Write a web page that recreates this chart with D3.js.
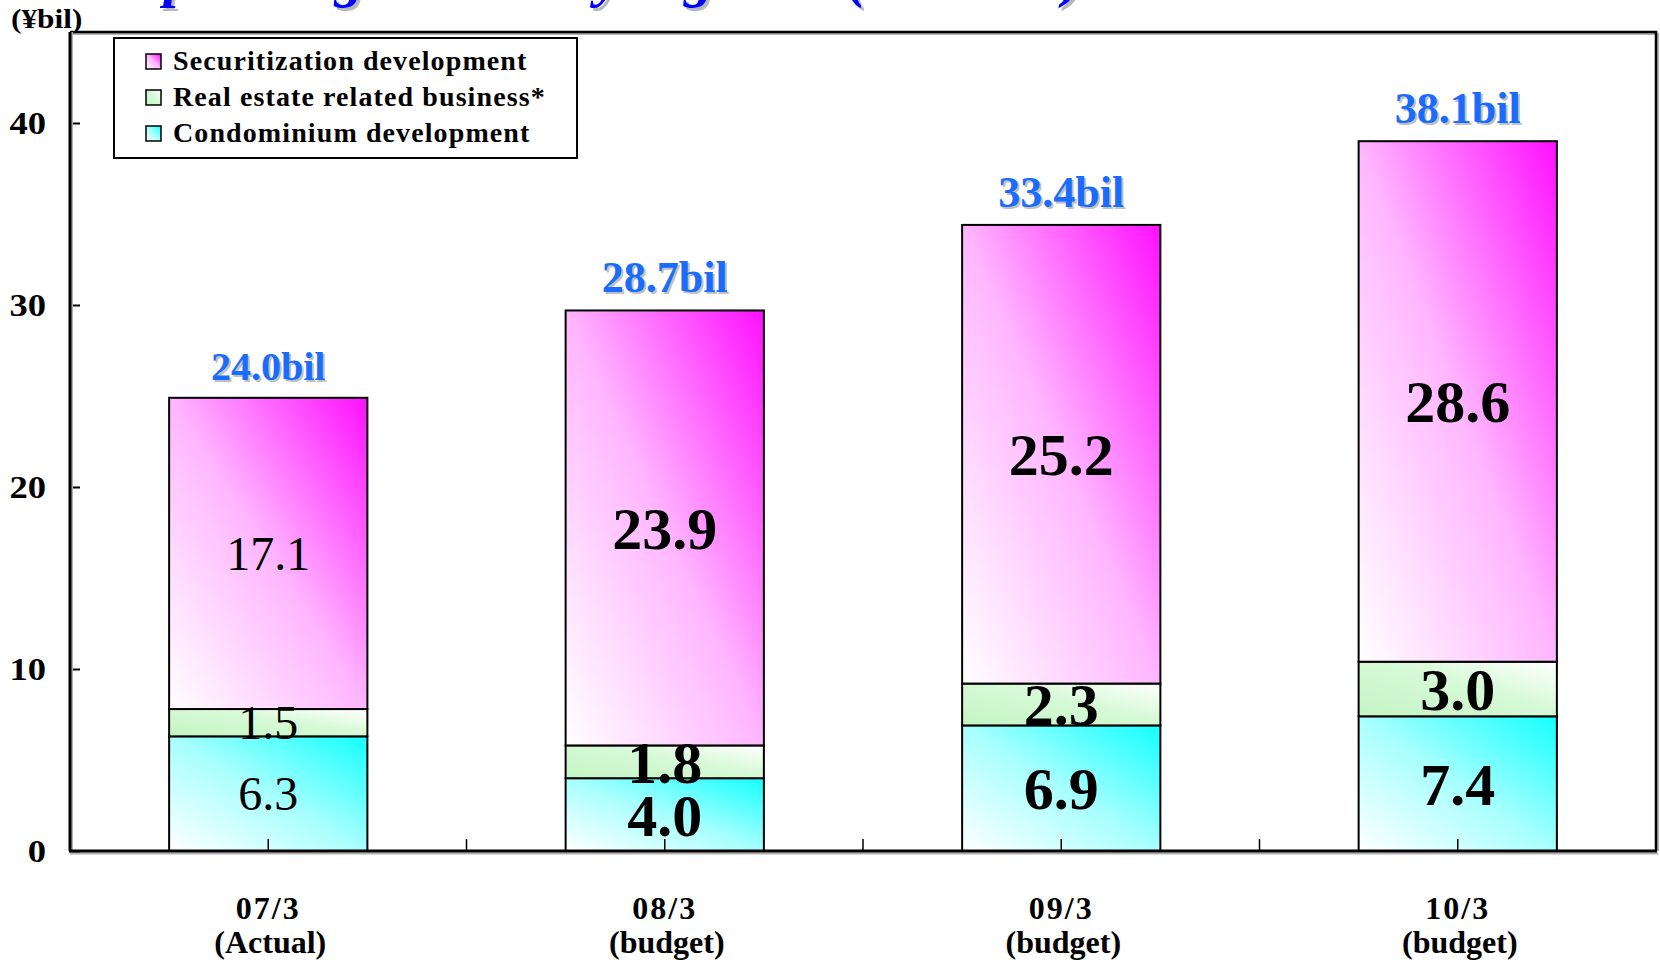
<!DOCTYPE html>
<html>
<head>
<meta charset="utf-8">
<script src="https://cdn.jsdelivr.net/npm/d3@7/dist/d3.min.js"></script>
<style>
  html, body { margin: 0; padding: 0; background: #ffffff; }
  svg { display: block; }
  text { font-family: "Liberation Serif", "Times New Roman", serif; }
</style>
</head>
<body>
<svg id="chart" width="1660" height="960"></svg>
<script>
// ---- data -------------------------------------------------------------
const categories = ["07/3", "08/3", "09/3", "10/3"];
const periodNotes = ["(Actual)", "(budget)", "(budget)", "(budget)"];
const seriesKeys = ["condominium", "realEstate", "securitization"];
const seriesNames = ["Securitization development", "Real estate related business*", "Condominium development"];
const condominium = [6.3, 4.0, 6.9, 7.4];
const realEstate = [1.5, 1.8, 2.3, 3.0];
const securitization = [17.1, 23.9, 25.2, 28.6];
const totalLabels = ["24.0bil", "28.7bil", "33.4bil", "38.1bil"];
const yTicks = [0, 10, 20, 30, 40];
const unitLabel = "(\u00a5bil)";
const titleText = "Operating income by segment (estimate)";

// ---- layout -----------------------------------------------------------
const svg = d3.select("#chart");
const plot = { left: 70, right: 1656, top: 32, bottom: 851 };

const rows = categories.map((c, i) => ({
  category: c,
  condominium: condominium[i],
  realEstate: realEstate[i],
  securitization: securitization[i]
}));

const x = d3.scaleBand()
  .domain(categories)
  .range([plot.left, plot.right])
  .paddingInner(0.5)
  .paddingOuter(0.25);

const y = d3.scaleLinear().domain([0, 45]).range([plot.bottom, plot.top]);

const stacked = d3.stack().keys(seriesKeys)(rows);

// ---- gradients --------------------------------------------------------
const defs = svg.append("defs");
const gradientStops = {
  securitization: [["0%", "#ffffff"], ["50%", "#ffb6ff"], ["100%", "#ff10ff"]],
  realEstate: [["0%", "#c4f5c4"], ["55%", "#d6f9d6"], ["100%", "#ffffff"]],
  condominium: [["0%", "#ffffff"], ["50%", "#a8ffff"], ["100%", "#14ffff"]]
};
Object.entries(gradientStops).forEach(([key, stops]) => {
  const g = defs.append("linearGradient")
    .attr("id", "grad-" + key)
    .attr("x1", 0).attr("y1", 1).attr("x2", 1).attr("y2", 0);
  stops.forEach(([o, c]) => g.append("stop").attr("offset", o).attr("stop-color", c));
});

// ---- title (runs off the top edge) -----------------------------------
svg.append("text")
  .attr("x", 125).attr("y", -1)
  .attr("fill", "#b8b8b8")
  .attr("font-size", 58).attr("font-weight", "bold").attr("font-style", "italic")
  .text(titleText);
svg.append("text")
  .attr("x", 122).attr("y", -4)
  .attr("fill", "#0000ff")
  .attr("font-size", 58).attr("font-weight", "bold").attr("font-style", "italic")
  .text(titleText);

// ---- unit label (slightly wide face) ------------------------------------
svg.append("text")
  .attr("transform", "translate(11,28) scale(1.12,1)")
  .attr("font-size", 28).attr("font-weight", "bold")
  .text(unitLabel);

// ---- plot frame (top and right edges, with soft shadow) ---------------
const frame = svg.append("g");
frame.append("path")
  .attr("d", `M${plot.left},${plot.top + 2}H${plot.right + 2}V${plot.bottom}`)
  .attr("fill", "none").attr("stroke", "#b0b0b0").attr("stroke-width", 2);
frame.append("path")
  .attr("d", `M${plot.left},${plot.top}H${plot.right}V${plot.bottom}`)
  .attr("fill", "none").attr("stroke", "#000").attr("stroke-width", 2.5);

// ---- bars ---------------------------------------------------------------
const barLayer = svg.append("g");
stacked.forEach(layer => {
  barLayer.append("g")
    .selectAll("rect")
    .data(layer)
    .join("rect")
    .attr("x", d => x(d.data.category))
    .attr("width", x.bandwidth())
    .attr("y", d => y(d[1]))
    .attr("height", d => y(d[0]) - y(d[1]))
    .attr("fill", `url(#grad-${layer.key})`)
    .attr("stroke", "#000")
    .attr("stroke-width", 2);
});

// ---- axes -----------------------------------------------------------------
const yAxis = d3.axisRight(y).tickValues(yTicks).tickSize(10).tickFormat("");
const yAxisG = svg.append("g").attr("transform", `translate(${plot.left},0)`).call(yAxis);
yAxisG.select(".domain").remove();
yAxisG.selectAll(".tick line").attr("stroke", "#000").attr("stroke-width", 2);

svg.append("g").selectAll("text")
  .data(yTicks)
  .join("text")
  .attr("transform", d => `translate(46,${y(d)}) scale(1.18,1)`)
  .attr("dy", "0.35em")
  .attr("text-anchor", "end")
  .attr("font-size", 31).attr("font-weight", "bold")
  .text(d => d);

// category ticks: at band centres and at the boundaries between bands
const step = x.step();
const boundaries = categories.slice(1).map(c => x(c) - (step - x.bandwidth()) / 2);
const centres = categories.map(c => x(c) + x.bandwidth() / 2);
svg.append("g").selectAll("line")
  .data(boundaries.concat(centres))
  .join("line")
  .attr("x1", d => d).attr("x2", d => d)
  .attr("y1", plot.bottom).attr("y2", plot.bottom - 12)
  .attr("stroke", "#000").attr("stroke-width", 1.5);

// axis lines with grey shadow
svg.append("line")
  .attr("x1", plot.left + 2).attr("x2", plot.left + 2)
  .attr("y1", plot.top).attr("y2", plot.bottom + 2)
  .attr("stroke", "#b0b0b0").attr("stroke-width", 2);
svg.append("line")
  .attr("x1", plot.left).attr("x2", plot.right + 2)
  .attr("y1", plot.bottom + 2.5).attr("y2", plot.bottom + 2.5)
  .attr("stroke", "#b0b0b0").attr("stroke-width", 2);
svg.append("line")
  .attr("x1", plot.left).attr("x2", plot.left)
  .attr("y1", plot.top).attr("y2", plot.bottom)
  .attr("stroke", "#000").attr("stroke-width", 3);
svg.append("line")
  .attr("x1", plot.left - 1).attr("x2", plot.right + 1)
  .attr("y1", plot.bottom).attr("y2", plot.bottom)
  .attr("stroke", "#000").attr("stroke-width", 3);

// category labels
const catG = svg.append("g").attr("font-weight", "bold").attr("text-anchor", "middle");
catG.selectAll("text.cat")
  .data(categories)
  .join("text")
  .attr("class", "cat")
  .attr("x", d => x(d) + x.bandwidth() / 2)
  .attr("y", 919)
  .attr("font-size", 32)
  .attr("letter-spacing", 2)
  .text(d => d);
catG.selectAll("text.note")
  .data(periodNotes)
  .join("text")
  .attr("class", "note")
  .attr("x", (d, i) => x(categories[i]) + x.bandwidth() / 2 + 2)
  .attr("y", 953)
  .attr("font-size", 32)
  .text(d => d);

// ---- segment value labels --------------------------------------------------
const fmt = d3.format(".1f");
const labelG = svg.append("g").attr("text-anchor", "middle");
stacked.forEach(layer => {
  labelG.append("g")
    .selectAll("text")
    .data(layer)
    .join("text")
    .attr("x", d => x(d.data.category) + x.bandwidth() / 2)
    .attr("y", d => y((d[0] + d[1]) / 2))
    .attr("dy", "0.35em")
    .attr("font-size", (d, i) => i === 0 ? 48 : 60)
    .attr("font-weight", (d, i) => i === 0 ? "normal" : "bold")
    .attr("fill", "#000")
    .text(d => fmt(d[1] - d[0]));
});

// ---- total labels above each bar ------------------------------------------
const topLayer = stacked[stacked.length - 1];
const totalG = svg.append("g").attr("text-anchor", "middle").attr("font-weight", "bold");
totalG.selectAll("text.shadow")
  .data(topLayer)
  .join("text")
  .attr("class", "shadow")
  .attr("x", d => x(d.data.category) + x.bandwidth() / 2 + 2)
  .attr("y", d => y(d[1]) - 18 + 2)
  .attr("font-size", (d, i) => i === 0 ? 40 : 44)
  .attr("fill", "#c0c0c0")
  .text((d, i) => totalLabels[i]);
totalG.selectAll("text.total")
  .data(topLayer)
  .join("text")
  .attr("class", "total")
  .attr("x", d => x(d.data.category) + x.bandwidth() / 2)
  .attr("y", d => y(d[1]) - 18)
  .attr("font-size", (d, i) => i === 0 ? 40 : 44)
  .attr("fill", "#1a6cff")
  .text((d, i) => totalLabels[i]);

// ---- legend -------------------------------------------------------------
const legend = svg.append("g");
legend.append("rect")
  .attr("x", 114).attr("y", 38).attr("width", 463).attr("height", 120)
  .attr("fill", "#fff").attr("stroke", "#000").attr("stroke-width", 2);
const legendKeys = ["securitization", "realEstate", "condominium"];
const legendRows = legend.selectAll("g.item")
  .data(seriesNames)
  .join("g")
  .attr("class", "item")
  .attr("transform", (d, i) => `translate(0,${70 + i * 36})`);
legendRows.append("rect")
  .attr("x", 146).attr("y", -16).attr("width", 15).attr("height", 15)
  .attr("fill", (d, i) => `url(#grad-${legendKeys[i]})`)
  .attr("stroke", "#000").attr("stroke-width", 1.5);
legendRows.append("text")
  .attr("x", 173).attr("y", 0)
  .attr("font-size", 28).attr("font-weight", "bold")
  .attr("letter-spacing", 1.1)
  .text(d => d);
</script>
</body>
</html>
